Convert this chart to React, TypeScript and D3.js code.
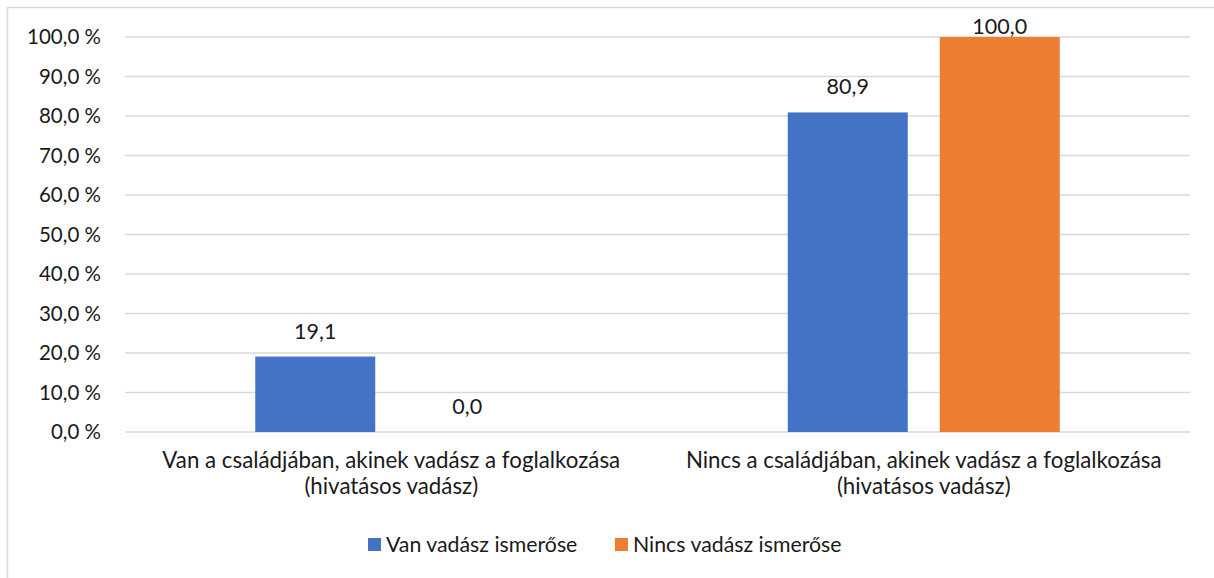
import React from 'react';
import * as d3 from 'd3';

// category labels, one entry per line
const categoryLines: string[][] = [
  ['Van a családjában, akinek vadász a foglalkozása', '(hivatásos vadász)'],
  ['Nincs a családjában, akinek vadász a foglalkozása', '(hivatásos vadász)'],
];
const categoryKeys = ['van', 'nincs'];

const seriesNames = ['Van vadász ismerőse', 'Nincs vadász ismerőse'];
const seriesColors = ['#4472c4', '#ed7d31'];

const vanIsmerose = [19.1, 80.9];
const nincsIsmerose = [0.0, 100.0];

const yTickValues = [0, 10, 20, 30, 40, 50, 60, 70, 80, 90, 100];

const WIDTH = 1214;
const HEIGHT = 578;
const FONT = 'Lato, "Open Sans", sans-serif';
const TEXT = '#1a1a1a';

const App: React.FC = () => {
  const svgRef = React.useRef<SVGSVGElement>(null);

  React.useEffect(() => {
    if (!svgRef.current) return;
    const svg = d3.select(svgRef.current);
    svg.selectAll('*').remove();

    const margin = { top: 37, right: 24, bottom: 146, left: 125 };
    const plotW = WIDTH - margin.left - margin.right;
    const plotH = HEIGHT - margin.top - margin.bottom;

    const comma = (v: number) => d3.format('.1f')(v).replace('.', ',');

    // outer chart frame
    svg.append('rect')
      .attr('x', 7.5)
      .attr('y', 7.5)
      .attr('width', WIDTH + 10)
      .attr('height', HEIGHT + 10)
      .attr('fill', '#fff')
      .attr('stroke', '#d9d9d9')
      .attr('stroke-width', 1.5);

    const g = svg.append('g')
      .attr('transform', `translate(${margin.left},${margin.top})`);

    const x0 = d3.scaleBand<string>()
      .domain(categoryKeys)
      .range([0, plotW]);

    const x1 = d3.scaleBand<number>()
      .domain([0, 1])
      .range([0, x0.bandwidth()])
      .paddingInner(0.2105)
      .paddingOuter(0.857);

    const y = d3.scaleLinear()
      .domain([0, 100])
      .range([plotH, 0]);

    // gridlines
    g.append('g')
      .selectAll('line')
      .data(yTickValues)
      .enter().append('line')
      .attr('x1', 0)
      .attr('x2', plotW)
      .attr('y1', d => y(d))
      .attr('y2', d => y(d))
      .attr('stroke', '#d9d9d9')
      .attr('stroke-width', 1.5);

    // y tick labels
    g.append('g')
      .selectAll('text')
      .data(yTickValues)
      .enter().append('text')
      .attr('x', -24)
      .attr('y', d => y(d))
      .attr('dy', '0.35em')
      .attr('text-anchor', 'end')
      .attr('font-family', FONT)
      .attr('font-size', 20.5)
      .attr('fill', TEXT)
      .text(d => `${comma(d)} %`);

    const series = [vanIsmerose, nincsIsmerose];

    series.forEach((values, si) => {
      const bars = g.append('g');
      bars.selectAll('rect')
        .data(values)
        .enter().append('rect')
        .attr('x', (_, i) => (x0(categoryKeys[i]) || 0) + (x1(si) || 0))
        .attr('y', d => y(d))
        .attr('width', x1.bandwidth())
        .attr('height', d => plotH - y(d))
        .attr('fill', seriesColors[si]);

      bars.selectAll('text')
        .data(values)
        .enter().append('text')
        .attr('x', (_, i) => (x0(categoryKeys[i]) || 0) + (x1(si) || 0) + x1.bandwidth() / 2)
        .attr('y', d => Math.max(y(d) - 18, -3))
        .attr('text-anchor', 'middle')
        .attr('font-family', FONT)
        .attr('font-size', 21.5)
        .attr('fill', TEXT)
        .text(d => comma(d));
    });

    // category labels
    const cat = g.append('g')
      .selectAll('text')
      .data(categoryLines)
      .enter().append('text')
      .attr('x', (_, i) => (x0(categoryKeys[i]) || 0) + x0.bandwidth() / 2)
      .attr('y', plotH + 36)
      .attr('text-anchor', 'middle')
      .attr('font-family', FONT)
      .attr('font-size', 22.3)
      .attr('fill', TEXT);
    cat.selectAll('tspan')
      .data(d => d)
      .enter().append('tspan')
      .attr('x', function () {
        return (this as SVGTSpanElement).parentElement!.getAttribute('x');
      })
      .attr('dy', (_, j) => (j === 0 ? 0 : 25.5))
      .text(d => d);

    // legend
    const legend = svg.append('g').attr('transform', 'translate(368,538)');
    const legendX = [0, 247];
    seriesNames.forEach((name, i) => {
      legend.append('rect')
        .attr('x', legendX[i])
        .attr('y', 0)
        .attr('width', 13)
        .attr('height', 13)
        .attr('fill', seriesColors[i]);
      legend.append('text')
        .attr('x', legendX[i] + 18)
        .attr('y', 6.5)
        .attr('dy', '0.35em')
        .attr('font-family', FONT)
        .attr('font-size', 21.3)
        .attr('fill', TEXT)
        .text(name);
    });
  }, []);

  return (
    <svg
      ref={svgRef}
      width={WIDTH}
      height={HEIGHT}
      style={{ position: 'absolute', left: 0, top: 0, background: '#fff' }}
    />
  );
};

export default App;
